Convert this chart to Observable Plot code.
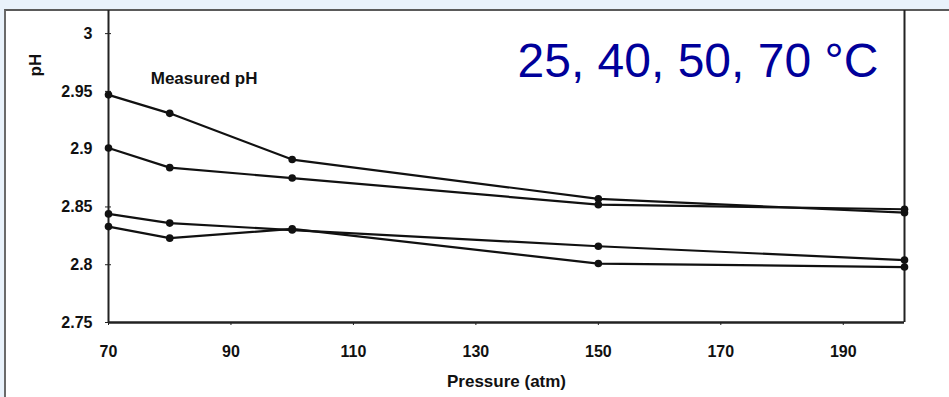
<!DOCTYPE html>
<html>
<head>
<meta charset="utf-8">
<script src="https://cdn.jsdelivr.net/npm/d3@7"></script>
<script src="https://cdn.jsdelivr.net/npm/@observablehq/plot@0.6"></script>
<style>
  html, body { margin: 0; padding: 0; background: #e9f2fb; }
  #wrap { position: relative; width: 949px; height: 397px; overflow: hidden; }
  #panel { position: absolute; left: 4px; top: 9px; width: 945px; height: 388px;
           background: #ffffff; border-top: 2px solid #5a5a5a; border-left: 2px solid #6a6a6a; box-sizing: border-box; }
  #chart { position: absolute; left: 0; top: 0; }
  #chart svg { background: transparent; }
  #chart svg g[aria-label$="tick label"],
  #chart svg g[aria-label$="tick label"] text { font-size: 16px !important; font-weight: bold !important; fill: #111; }
</style>
</head>
<body>
<div id="wrap">
  <div id="panel"></div>
  <div id="chart"></div>
</div>
<script>
// Data
const pressure = [70, 80, 100, 150, 200];
const series1 = [2.947, 2.931, 2.891, 2.857, 2.845];
const series2 = [2.901, 2.884, 2.875, 2.852, 2.848];
const series3 = [2.844, 2.836, 2.830, 2.816, 2.804];
const series4 = [2.833, 2.823, 2.831, 2.801, 2.798];
const seriesNames = ["s1", "s2", "s3", "s4"];
const xTicks = [70, 90, 110, 130, 150, 170, 190];
const yTicks = [2.75, 2.8, 2.85, 2.9, 2.95, 3];
const titleText = "25, 40, 50, 70 °C";
const noteText = "Measured pH";
const xLabel = "Pressure (atm)";
const yLabel = "pH";

const allSeries = [series1, series2, series3, series4];
const rows = allSeries.flatMap((vals, i) =>
  vals.map((v, j) => ({series: seriesNames[i], p: pressure[j], ph: v})));

const font = "'Liberation Sans', Arial, sans-serif";

const chart = Plot.plot({
  width: 949,
  height: 397,
  marginLeft: 108,
  marginRight: 45,
  marginTop: 10,
  marginBottom: 75,
  style: {fontFamily: font, background: "transparent", color: "#111"},
  x: {domain: [70, 200]},
  y: {domain: [2.75, 3.02]},
  marks: [
    Plot.axisY({ticks: yTicks, tickSize: 0, tickPadding: 16, label: null,
      tickFormat: d => String(+d.toFixed(2))}),
    Plot.axisY({ticks: yTicks, tickSize: 6, dx: 3, text: null, label: null, stroke: "#222"}),
    Plot.axisX({ticks: xTicks, tickSize: 3, tickPadding: 20, label: null, stroke: "#222"}),
    Plot.ruleX([70, 200], {stroke: "#222", strokeWidth: 2}),
    Plot.ruleY([2.75], {stroke: "#222", strokeWidth: 2.5}),
    Plot.line(rows, {x: "p", y: "ph", z: "series", stroke: "#111", strokeWidth: 2.2}),
    Plot.dot(rows, {x: "p", y: "ph", r: 3.8, fill: "#111", stroke: null}),
    Plot.text([noteText], {x: 76.9, y: 2.961, text: d => d, textAnchor: "start",
      fontSize: 17, fontWeight: "bold", fill: "#111"}),
    Plot.text([yLabel], {frameAnchor: "top-left", text: d => d, rotate: -90, dx: -80, dy: 66,
      fontSize: 17, fontWeight: "bold", fill: "#111"}),
    Plot.text([xLabel], {frameAnchor: "bottom", text: d => d, dy: 59, lineAnchor: "middle",
      fontSize: 17, fontWeight: "bold", fill: "#111"}),
    Plot.text([titleText], {x: 136.8, y: 2.976, text: d => d, textAnchor: "start",
      fontSize: 48, fontWeight: "normal", fill: "#00009a"})
  ]
});
document.getElementById("chart").appendChild(chart);
</script>
</body>
</html>
